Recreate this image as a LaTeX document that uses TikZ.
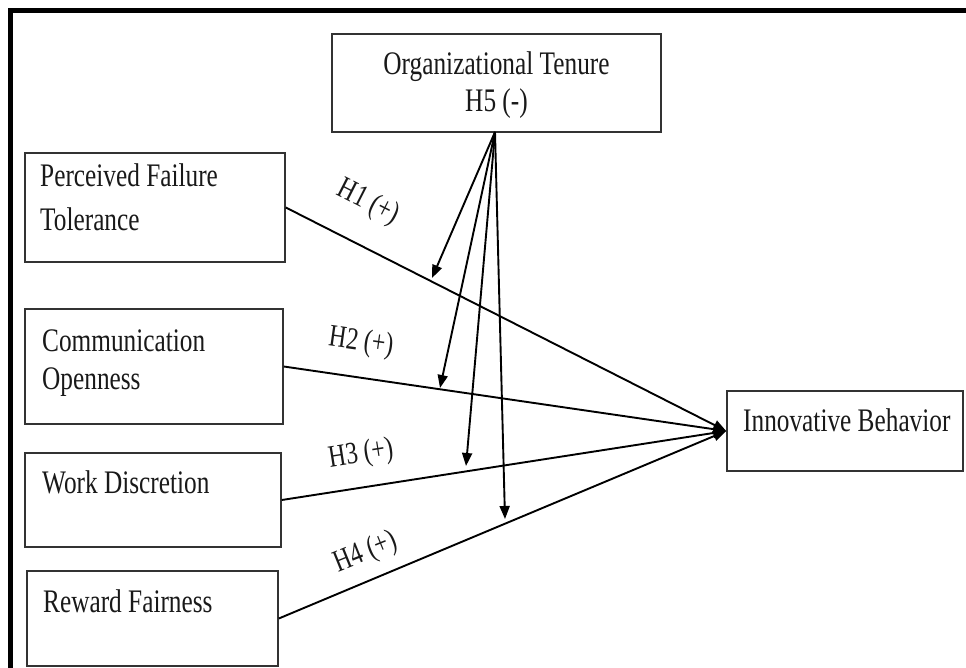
\documentclass[tikz,border=0pt]{standalone}
\usepackage{fontspec}
\setmainfont{Liberation Serif}
\usetikzlibrary{arrows.meta}
\newcommand{\vstretch}[1]{\scalebox{1}[1.3]{#1}}
\begin{document}
\begin{tikzpicture}[x=1pt,y=-1pt,
  box/.style={draw=black!80, line width=1.6pt, rectangle, inner sep=0pt},
  lbl/.style={inner sep=0pt, font=\fontsize{25.3}{30}\selectfont, text=black!90},
  hyp/.style={inner sep=0pt, font=\fontsize{24}{28}\selectfont, text=black!90},
  link/.style={line width=1.9pt, -{Triangle[length=13pt,width=10pt]}},
  frame/.style={line width=4.5pt}]
\useasboundingbox (0,0) rectangle (966,668);
\fill[white] (0,0) rectangle (966,668);
% frame
\draw[frame] (10.7,668) -- (10.7,10.7) -- (966,10.7);
% boxes
\node[box, minimum width=329pt, minimum height=98pt] (ot) at (496.5,83) {};
\node[box, minimum width=260pt, minimum height=109pt] (pft) at (155,207.5) {};
\node[box, minimum width=258pt, minimum height=115pt] (co) at (154,366.5) {};
\node[box, minimum width=256pt, minimum height=94pt] (wd) at (153,500) {};
\node[box, minimum width=251pt, minimum height=95pt] (rf) at (152.5,618.5) {};
\node[box, minimum width=236pt, minimum height=80pt] (ib) at (845,431) {};
% texts
\node[lbl, anchor=base] (ot1) at (496.5,75) {\vstretch{Organizational Tenure}};
\node[lbl, anchor=base] (ot2) at (496.5,112) {\vstretch{H5 (-)}};
\node[lbl, anchor=base west] (pft1) at (40,187) {\vstretch{Perceived Failure}};
\node[lbl, anchor=base west] (pft2) at (40,231) {\vstretch{Tolerance}};
\node[lbl, anchor=base west] (co1) at (42,351) {\vstretch{Communication}};
\node[lbl, anchor=base west] (co2) at (42,389) {\vstretch{Openness}};
\node[lbl, anchor=base west] (wd1) at (42,493) {\vstretch{Work Discretion}};
\node[lbl, anchor=base west] (rf1) at (43,612) {\vstretch{Reward Fairness}};
\node[lbl, anchor=base west] (ib1) at (743,431) {\vstretch{Innovative Behavior}};
% hypothesis labels
\node[hyp, rotate=-27] (h1) at (368,203) {\vstretch{H1 (+)}};
\node[hyp, rotate=-8] (h2) at (361,343) {\vstretch{H2 (+)}};
\node[hyp, rotate=9] (h3) at (361,455) {\vstretch{H3 (+)}};
\node[hyp, rotate=22] (h4) at (366,553) {\vstretch{H4 (+)}};
% main paths
\draw[link] (pft.east) -- (ib.west);
\draw[link] (co.east) -- (ib.west);
\draw[link] (wd.east) -- (ib.west);
\draw[link] (rf.east) -- (ib.west);
% moderation arrows
\coordinate (m1) at (432,278);
\coordinate (m2) at (440,388);
\coordinate (m3) at (466,466);
\coordinate (m4) at (505,519);
\coordinate (ms) at (495,132);
\draw[link] (ms) -- (m1);
\draw[link] (ms) -- (m2);
\draw[link] (ms) -- (m3);
\draw[link] (ms) -- (m4);
\end{tikzpicture}
\end{document}
